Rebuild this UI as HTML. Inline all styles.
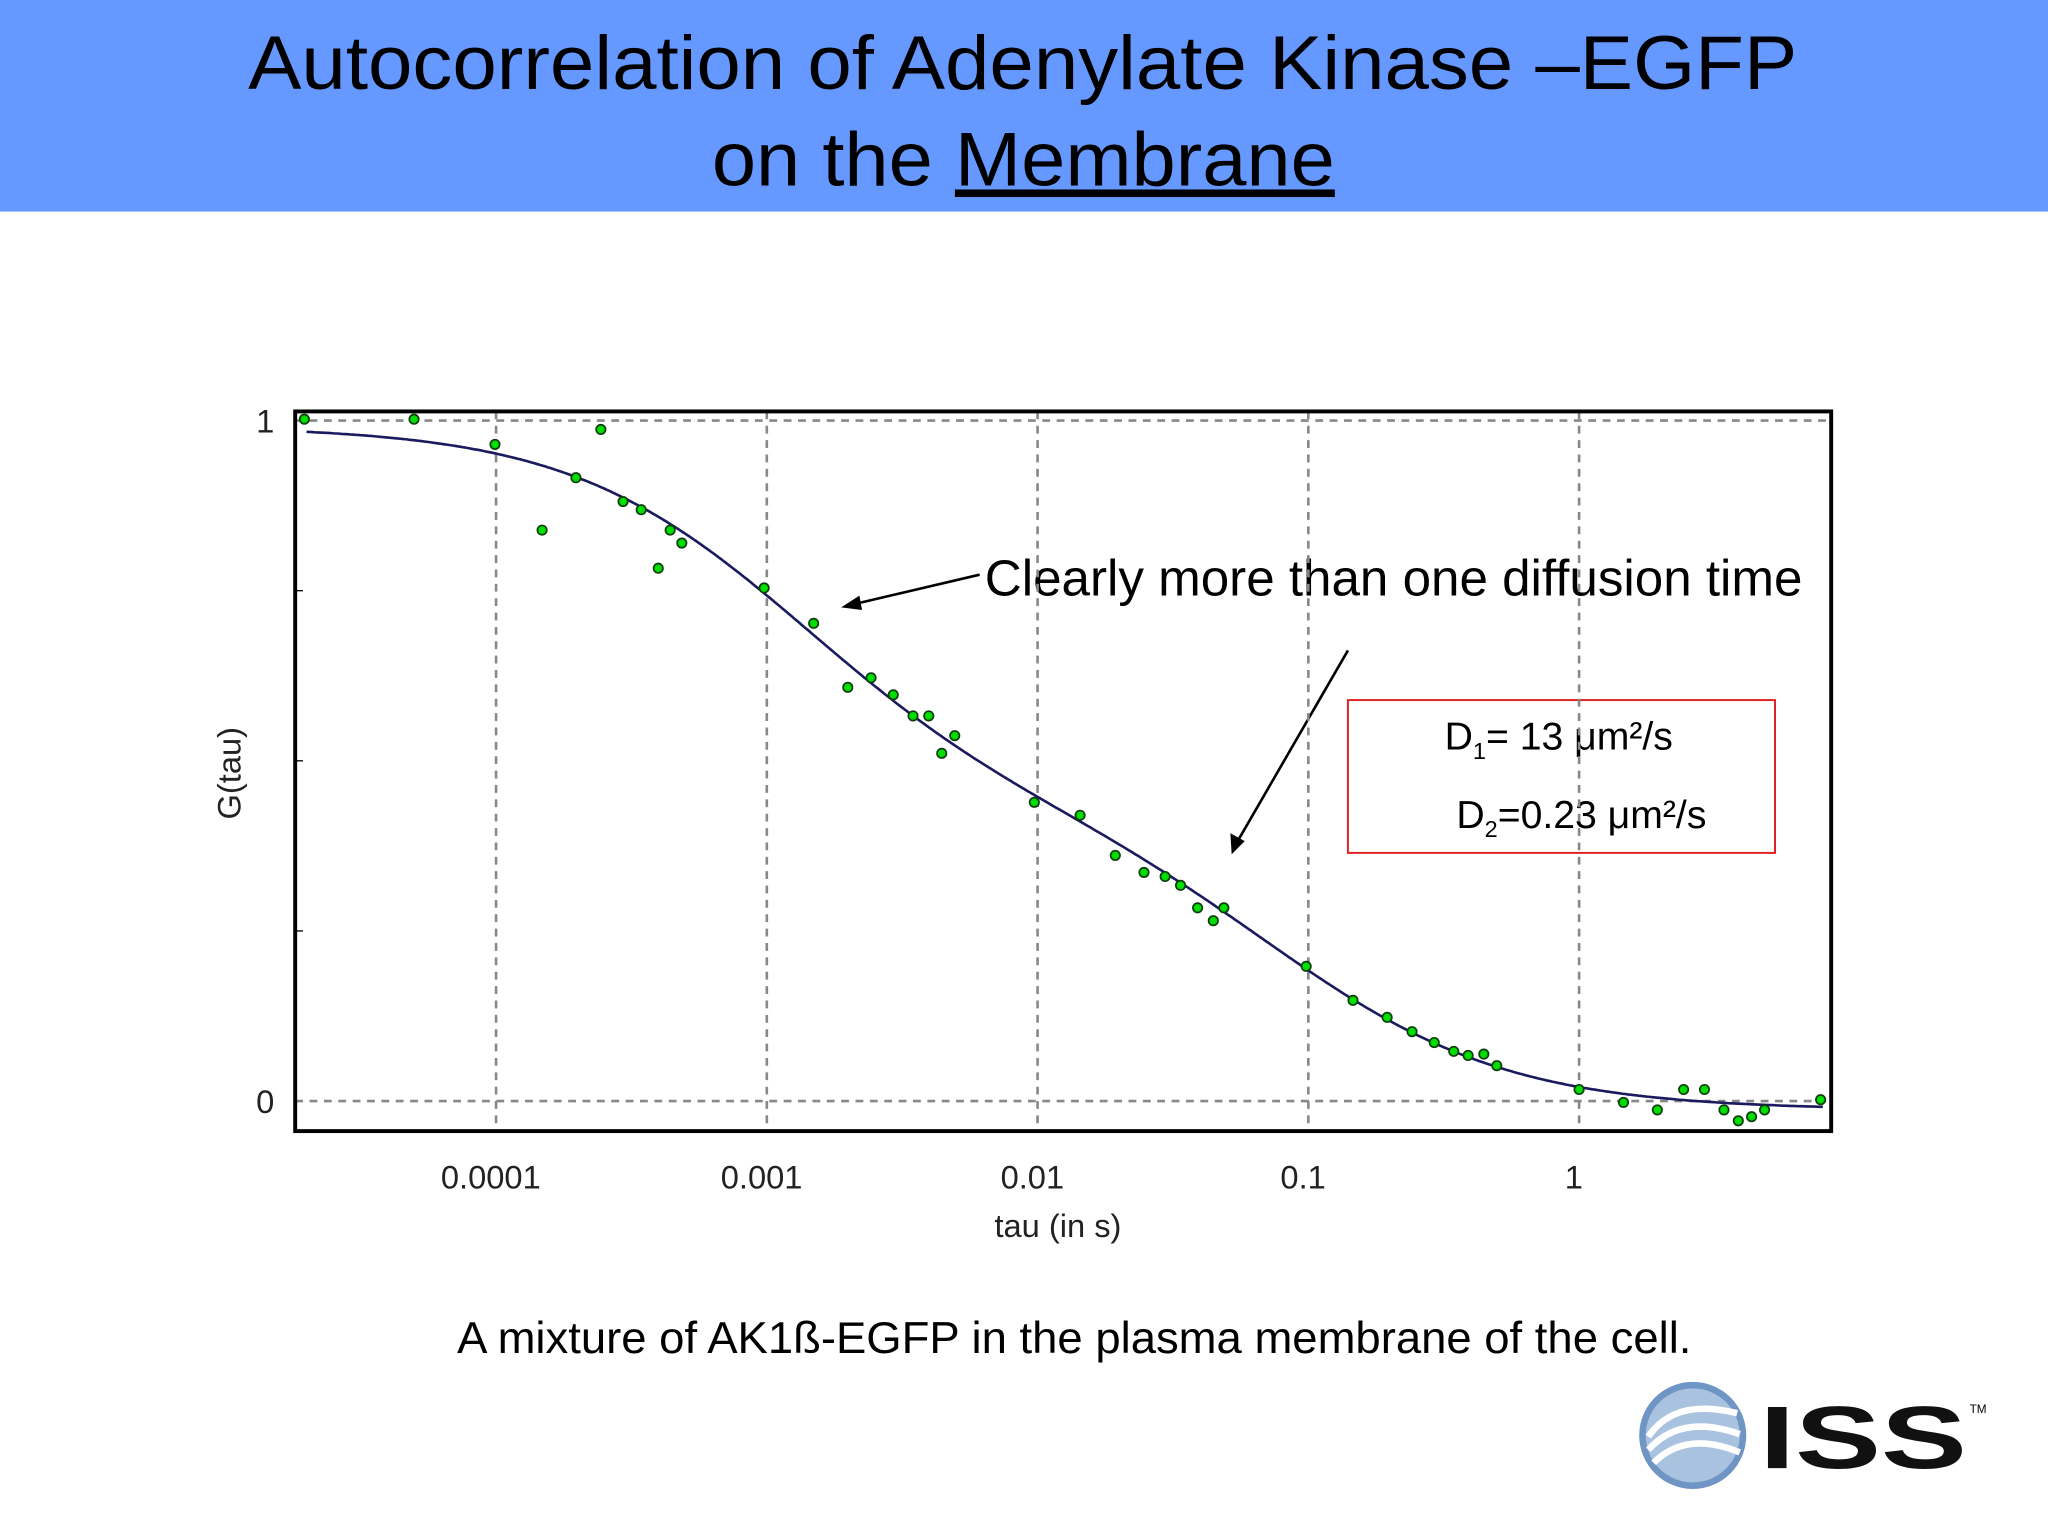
<!DOCTYPE html>
<html><head><meta charset="utf-8"><style>
html,body{margin:0;padding:0;background:#fff;}
svg{display:block;font-family:"Liberation Sans",sans-serif;}
</style></head><body>
<svg id="chart" width="2048" height="1536" viewBox="0 0 1568 1176" xmlns="http://www.w3.org/2000/svg">
<rect x="0" y="0" width="1568" height="162" fill="#6699ff"/>
<text x="190" y="68" font-size="58" textLength="1186" lengthAdjust="spacingAndGlyphs" fill="#000">Autocorrelation of Adenylate Kinase –EGFP</text>
<text x="545" y="142" font-size="58" textLength="477" lengthAdjust="spacingAndGlyphs" fill="#000">on the <tspan text-decoration="underline">Membrane</tspan></text>
<text x="754" y="456" font-size="39" textLength="626" lengthAdjust="spacingAndGlyphs" fill="#000">Clearly more than one diffusion time</text>
<line x1="750" y1="440" x2="652" y2="463" stroke="#000" stroke-width="2"/>
<polygon points="644,465 658,456 660,467" fill="#000"/>
<line x1="1032" y1="498" x2="947" y2="645" stroke="#000" stroke-width="2"/>
<polygon points="943,654 942,638 953,644" fill="#000"/>
<rect x="1032" y="536" width="327" height="117" fill="#fff" stroke="#e02020" stroke-width="1.5"/>
<text x="1106" y="574" font-size="30">D<tspan font-size="18" dy="7">1</tspan><tspan dy="-7">= 13 μm²/s</tspan></text>
<text x="1115" y="634" font-size="30">D<tspan font-size="18" dy="7">2</tspan><tspan dy="-7">=0.23 μm²/s</tspan></text>
<text x="350" y="1036" font-size="34" textLength="945" lengthAdjust="spacingAndGlyphs">A mixture of AK1ß-EGFP in the plasma membrane of the cell.</text>
<g id="plot"></g>
<g>
<circle cx="1296" cy="1099" r="41" fill="#6f95c4"/>
<circle cx="1296" cy="1099" r="36" fill="#a9c2e0"/>
<path d="M1262 1100 q20 -30 68 -18 M1262 1110 q25 -28 70 -12 M1266 1120 q25 -25 66 -8" stroke="#fff" stroke-width="5" fill="none"/>
<text x="0" y="0" font-size="68" font-weight="bold" fill="#111" transform="translate(1347,1124) scale(1.45,1)">ISS</text>
<text x="1508" y="1082" font-size="9">TM</text>
</g>
</svg>
<script>
const logTau=[-4.708,-4.303,-4.004,-3.830,-3.705,-3.613,-3.531,-3.464,-3.401,-3.357,-3.314,-3.010,-2.827,-2.701,-2.615,-2.533,-2.460,-2.402,-2.354,-2.306,-2.012,-1.843,-1.713,-1.607,-1.529,-1.472,-1.409,-1.351,-1.312,-1.008,-0.835,-0.709,-0.617,-0.535,-0.463,-0.410,-0.352,-0.304,0,0.164,0.289,0.386,0.463,0.535,0.588,0.637,0.685,0.892];
const gVals=[1.002,1.002,0.965,0.839,0.916,0.987,0.881,0.869,0.783,0.839,0.820,0.754,0.702,0.608,0.622,0.597,0.566,0.566,0.511,0.537,0.439,0.420,0.361,0.336,0.330,0.317,0.284,0.265,0.284,0.198,0.148,0.123,0.102,0.086,0.073,0.067,0.069,0.052,0.017,-0.002,-0.013,0.017,0.017,-0.013,-0.029,-0.023,-0.013,0.002];
const xTickLogs=[-4,-3,-2,-1,0];
const xTickLabels=["0.0001","0.001","0.01","0.1","1"];
const yTickVals=[0,1];
const yTickLabels=["0","1"];
const fitA=0.56,fitT1=0.0013,fitB=0.445,fitT2=0.08,fitC=-0.013;
const NS="http://www.w3.org/2000/svg";
const L=226,R=1402,T=315,B=866;
function X(lt){return 1209+lt*207.3;}
function Y(g){return 843-g*521;}
const g=document.getElementById('plot');
function mk(tag,attrs){const e=document.createElementNS(NS,tag);for(const k in attrs)e.setAttribute(k,attrs[k]);g.appendChild(e);return e;}
xTickLogs.forEach((lt,i)=>{
 const l=mk('line',{x1:X(lt),x2:X(lt),y1:T,y2:B,stroke:'#888','stroke-width':2,'stroke-dasharray':'6,5'});
 
 
 const t=mk('text',{x:X(lt)-4,y:910,'font-size':25,'text-anchor':'middle',fill:'#222'});
 t.textContent=xTickLabels[i];
 
 
});
yTickVals.forEach((v,i)=>{
 const l=mk('line',{x1:L,x2:R,y1:Y(v),y2:Y(v),stroke:'#888','stroke-width':2,'stroke-dasharray':'6,5'});
 
 
 const t=mk('text',{x:210,y:Y(v)+9,'font-size':25,'text-anchor':'end',fill:'#222'});
 t.textContent=yTickLabels[i];
 
 
});
[0.25,0.5,0.75].forEach(v=>{
 const l=mk('line',{x1:L,x2:L+6,y1:Y(v),y2:Y(v),stroke:'#000','stroke-width':1});
 
 
});
const frame=mk('rect',{x:L,y:T,width:R-L,height:B-T,fill:'none',stroke:'#000','stroke-width':3});


let d='';
for(let lt=-4.70;lt<=0.90;lt+=0.01){
 const t=Math.pow(10,lt);
 const v=fitA/(1+t/fitT1)+fitB/(1+t/fitT2)+fitC;
 d+=(d?'L':'M')+X(lt).toFixed(1)+' '+Y(v).toFixed(1);
}
const fit=mk('path',{d:d,stroke:'#1a1a5e','stroke-width':2,fill:'none'});


logTau.forEach((lt,i)=>{
 const c=mk('circle',{cx:X(lt),cy:Y(gVals[i]),r:3.6,fill:'#00dd00',stroke:'#0d3d0d','stroke-width':1.3});
 
 
});
const xt=mk('text',{x:810,y:947,'font-size':25,'text-anchor':'middle',fill:'#222'});
xt.textContent='tau (in s)';


const yt=mk('text',{x:0,y:0,'font-size':25,'text-anchor':'middle',fill:'#222',transform:'translate(184,592) rotate(-90)'});
yt.textContent='G(tau)';


</script>
</body></html>
